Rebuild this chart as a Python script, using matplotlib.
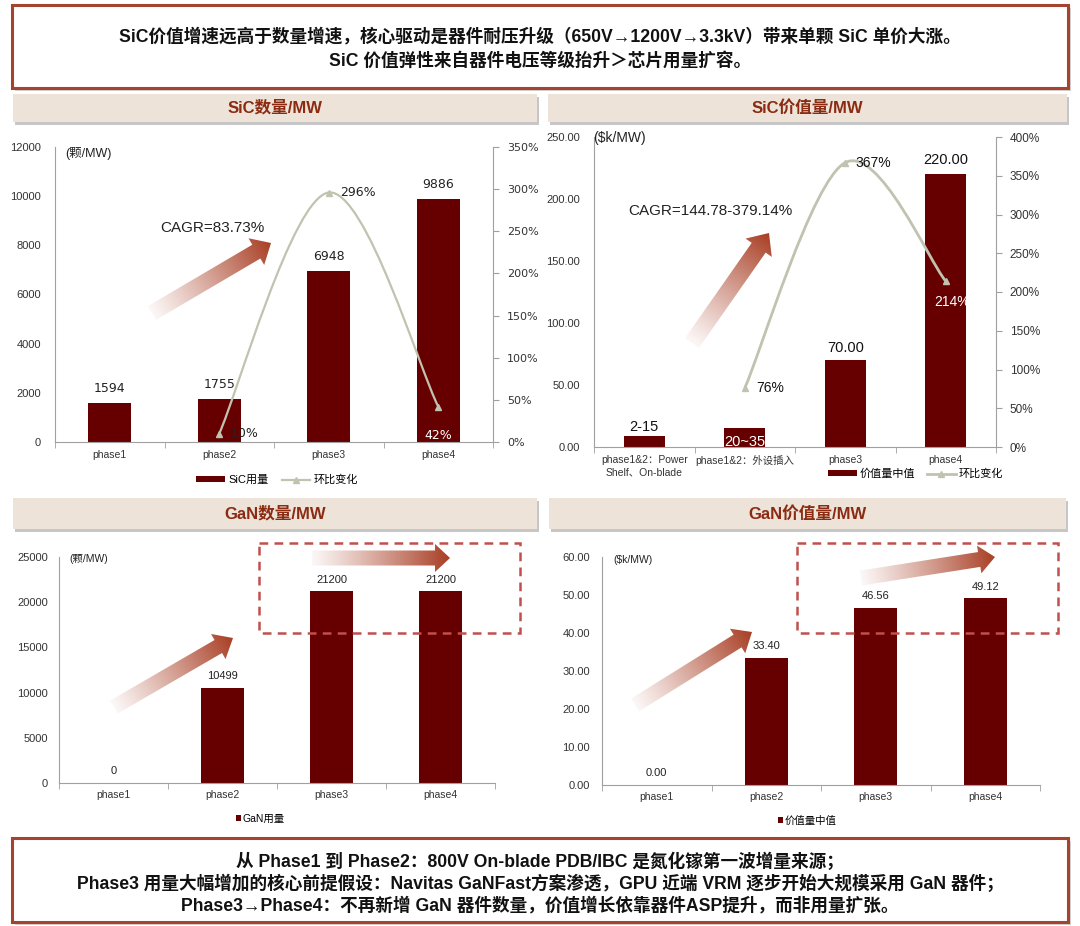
import numpy as np
import matplotlib
matplotlib.use('Agg')
import matplotlib.pyplot as plt
from matplotlib.patches import Rectangle, Polygon, PathPatch
from matplotlib.path import Path
from matplotlib.lines import Line2D
from matplotlib.ticker import FuncFormatter, MultipleLocator

plt.rcParams['font.family'] = ['Liberation Sans', 'Noto Sans CJK SC', 'DejaVu Sans']

# ---- data ----
sic_qty_phases = ['phase1', 'phase2', 'phase3', 'phase4']
sic_qty = [1594, 1755, 6948, 9886]
sic_qty_growth = [10, 296, 42]          # phase2..phase4, %

sic_val_phases = ['phase1&2：Power\nShelf、On-blade', 'phase1&2：外设插入', 'phase3', 'phase4']
sic_val = [8.5, 15, 70, 220]
sic_val_labels = ['2-15', '20~35', '70.00', '220.00']
sic_val_growth = [76, 367, 214]         # phase2..phase4, %

gan_phases = ['phase1', 'phase2', 'phase3', 'phase4']
gan_qty = [0, 10499, 21200, 21200]
gan_val = [0.00, 33.40, 46.56, 49.12]

top_lines = ['SiC价值增速远高于数量增速，核心驱动是器件耐压升级（650V→1200V→3.3kV）带来单颗 SiC 单价大涨。',
             'SiC 价值弹性来自器件电压等级抬升＞芯片用量扩容。']
bottom_lines = ['从 Phase1 到 Phase2：800V On-blade PDB/IBC 是氮化镓第一波增量来源；',
                'Phase3 用量大幅增加的核心前提假设：Navitas GaNFast方案渗透，GPU 近端 VRM 逐步开始大规模采用 GaN 器件；',
                'Phase3→Phase4：不再新增 GaN 器件数量，价值增长依靠器件ASP提升，而非用量扩张。']

BAR = '#660000'
LINE = '#C2C2B0'
AXC = '#A0A0A0'
TXT = '#333333'
RUST = (0.66, 0.24, 0.14)

W, H = 1080, 926
fig = plt.figure(figsize=(W / 100, H / 100), dpi=100)


def px_axes(x0, y0, x1, y1):
    return fig.add_axes([x0 / W, (H - y1) / H, (x1 - x0) / W, (y1 - y0) / H])


def smooth_path(xs, ys):
    # cubic bezier through the points (Excel-like smoothed line)
    pts = np.column_stack([xs, ys]).astype(float)
    n = len(pts)
    verts, codes = [pts[0]], [Path.MOVETO]
    for i in range(n - 1):
        pp = pts[max(i - 1, 0)]
        p0, p1 = pts[i], pts[i + 1]
        pn = pts[min(i + 2, n - 1)]
        verts += [p0 + (p1 - pp) / 6, p1 - (pn - p0) / 6, p1]
        codes += [Path.CURVE4] * 3
    return Path(verts, codes)


def style_axes(ax, labels, ypad):
    n = len(labels)
    ax.set_xlim(-0.5, n - 0.5)
    ax.set_xticks(range(n))
    ax.set_xticklabels(labels)
    ax.set_xticks(np.arange(-0.5, n), minor=True)
    ax.tick_params(axis='x', which='major', length=0, labelsize=7.5, colors=TXT, pad=6)
    ax.tick_params(axis='x', which='minor', length=4, color=AXC)
    ax.tick_params(axis='y', length=0, labelsize=8, colors=TXT, pad=ypad)
    for s in ['top', 'right']:
        ax.spines[s].set_visible(False)
    for s in ['left', 'bottom']:
        ax.spines[s].set_color(AXC)
    ax.set_facecolor('none')


def style_twin(ax2, top, step):
    ax2.set_ylim(0, top)
    ax2.yaxis.set_major_locator(MultipleLocator(step))
    ax2.yaxis.set_major_formatter(FuncFormatter(lambda v, p: f'{v:.0f}%'))
    ax2.tick_params(axis='y', length=4, color=AXC, labelsize=8.5, colors=TXT, pad=6)
    for s in ['top', 'left', 'bottom']:
        ax2.spines[s].set_visible(False)
    ax2.spines['right'].set_color(AXC)


# ---- SiC quantity ----
ax = px_axes(55, 147, 493, 442)
x = np.arange(len(sic_qty))
ax.bar(x, sic_qty, 0.39, color=BAR, zorder=2)
ax.set_ylim(0, 12000)
ax.yaxis.set_major_locator(MultipleLocator(2000))
style_axes(ax, sic_qty_phases, 10)
for i, v in enumerate(sic_qty):
    ax.annotate(str(v), (i, v), xytext=(0, 10.5), textcoords='offset points',
                ha='center', va='center', fontsize=9, family='DejaVu Sans', color='#222222')
ax2 = ax.twinx()
style_twin(ax2, 350, 50)
ax2.tick_params(axis='y', labelsize=8)
for lab in ax2.get_yticklabels():
    lab.set_family('DejaVu Sans')
gx = x[1:]
ax2.add_patch(PathPatch(smooth_path(gx, sic_qty_growth), fc='none', ec=LINE, lw=1.6, zorder=3))
ax2.plot(gx, sic_qty_growth, ls='none', marker='^', ms=5, color=LINE, zorder=4)
offs = [((8.5, 0), 'left', '#222222'), ((8, 0), 'left', '#222222'), ((0, -21), 'center', 'white')]
for xi, g, (o, ha, c) in zip(gx, sic_qty_growth, offs):
    ax2.annotate(f'{g}%', (xi, g), xytext=o, textcoords='offset points', ha=ha, va='center',
                 fontsize=9, family='DejaVu Sans', color=c)
ax.legend([Rectangle((0, 0), 1, 1, fc=BAR),
           Line2D([], [], color=LINE, lw=1.6, marker='^', ms=4)],
          ['SiC用量', '环比变化'], loc='center', bbox_to_anchor=(0.507, -0.129), ncol=2,
          frameon=False, fontsize=8, handlelength=2.6, handleheight=0.5,
          columnspacing=1.2, handletextpad=0.3)

# ---- SiC value ----
ax = px_axes(594, 137, 996, 447)
x = np.arange(len(sic_val))
ax.bar(x, sic_val, 0.41, color=BAR, zorder=2)
ax.set_ylim(0, 250)
ax.yaxis.set_major_locator(MultipleLocator(50))
ax.yaxis.set_major_formatter(FuncFormatter(lambda v, p: f'{v:.2f}'))
style_axes(ax, sic_val_phases, 10)
label_dy = [6.5, -9.5, 8.6, 10]
for i, (v, lab) in enumerate(zip(sic_val, sic_val_labels)):
    ax.annotate(lab, (i, v), xytext=(0, label_dy[i]), textcoords='offset points',
                ha='center', va='center', fontsize=10.5,
                color='white' if label_dy[i] < 0 else '#111111')
ax2 = ax.twinx()
style_twin(ax2, 400, 50)
gx = x[1:]
ax2.add_patch(PathPatch(smooth_path(gx, sic_val_growth), fc='none', ec=LINE, lw=2.0, zorder=3))
ax2.plot(gx, sic_val_growth, ls='none', marker='^', ms=5, color=LINE, zorder=4)
offs = [((8, 0), 'left', '#111111'), ((7, 0), 'left', '#111111'), ((-8, -15), 'left', 'white')]
for xi, g, (o, ha, c) in zip(gx, sic_val_growth, offs):
    ax2.annotate(f'{g}%', (xi, g), xytext=o, textcoords='offset points', ha=ha, va='center',
                 fontsize=10, color=c)
ax.legend([Rectangle((0, 0), 1, 1, fc=BAR),
           Line2D([], [], color=LINE, lw=2, marker='^', ms=4)],
          ['价值量中值', '环比变化'], loc='center', bbox_to_anchor=(0.80, -0.087), ncol=2,
          frameon=False, fontsize=8, handlelength=2.6, handleheight=0.5,
          columnspacing=1.0, handletextpad=0.3)

# ---- GaN quantity ----
ax = px_axes(59, 557, 495, 783)
x = np.arange(len(gan_qty))
ax.bar(x, gan_qty, 0.39, color=BAR, zorder=2)
ax.set_ylim(0, 25000)
ax.yaxis.set_major_locator(MultipleLocator(5000))
style_axes(ax, gan_phases, 8)
ax.tick_params(axis='x', which='major', pad=5)
for i, v in enumerate(gan_qty):
    ax.annotate(str(v), (i, v), xytext=(0, 8.5), textcoords='offset points',
                ha='center', va='center', fontsize=8, color='#222222')
ax.legend([Rectangle((0, 0), 1, 1, fc=BAR)], ['GaN用量'], loc='center',
          bbox_to_anchor=(0.461, -0.159), frameon=False, fontsize=7.5,
          handlelength=0.5, handleheight=0.5, handletextpad=0.15)

# ---- GaN value ----
ax = px_axes(602, 557, 1040, 785)
x = np.arange(len(gan_val))
ax.bar(x, gan_val, 0.39, color=BAR, zorder=2)
ax.set_ylim(0, 60)
ax.yaxis.set_major_locator(MultipleLocator(10))
ax.yaxis.set_major_formatter(FuncFormatter(lambda v, p: f'{v:.2f}'))
style_axes(ax, gan_phases, 8.5)
ax.tick_params(axis='x', which='major', pad=5)
for i, v in enumerate(gan_val):
    ax.annotate(f'{v:.2f}', (i, v), xytext=(0, 8.5), textcoords='offset points',
                ha='center', va='center', fontsize=8, color='#222222')
ax.legend([Rectangle((0, 0), 1, 1, fc=BAR)], ['价值量中值'], loc='center',
          bbox_to_anchor=(0.468, -0.158), frameon=False, fontsize=7.5,
          handlelength=0.5, handleheight=0.5, handletextpad=0.15)

# ---- overlay: boxes, headers, arrows, notes ----
ov = fig.add_axes([0, 0, 1, 1], zorder=10)
ov.set_xlim(0, W)
ov.set_ylim(H, 0)
ov.axis('off')
ov.patch.set_alpha(0)


def note_box(x0, y0, x1, y1):
    ov.add_patch(Rectangle((x0 + 3, y0 + 3), x1 - x0, y1 - y0, fc='#B5B5B5', ec='none', alpha=0.6))
    ov.add_patch(Rectangle((x0, y0), x1 - x0, y1 - y0, fc='white', ec='#A5432E', lw=2.2))


def header(x0, y0, x1, y1, title):
    ov.add_patch(Rectangle((x0 + 2, y0 + 3), x1 - x0, y1 - y0, fc='#A0A0A0', ec='none', alpha=0.6))
    ov.add_patch(Rectangle((x0, y0), x1 - x0, y1 - y0, fc='#EEE3D9', ec='none'))
    ov.text((x0 + x1) / 2, (y0 + y1) / 2, title, ha='center', va='center',
            fontsize=12, fontweight='bold', color='#8B2B12')


def grad_arrow(tail, tip, body, head_w, head_l):
    p0, p1 = np.array(tail, float), np.array(tip, float)
    d = p1 - p0
    L = np.hypot(*d)
    u = d / L
    nv = np.array([-u[1], u[0]])
    neck = p1 - u * head_l
    pts = np.array([p0 + nv * body / 2, neck + nv * body / 2, neck + nv * head_w / 2, p1,
                    neck - nv * head_w / 2, neck - nv * body / 2, p0 - nv * body / 2])
    poly = Polygon(pts, closed=True, fc='none', ec='none')
    ov.add_patch(poly)
    xmin, ymin = pts.min(0) - 2
    xmax, ymax = pts.max(0) + 2
    X, Y = np.meshgrid(np.linspace(xmin, xmax, 200), np.linspace(ymin, ymax, 200))
    t = np.clip(((X - p0[0]) * u[0] + (Y - p0[1]) * u[1]) / L, 0, 1)
    img = np.zeros((200, 200, 4))
    img[..., :3] = RUST
    img[..., 3] = 0.04 + 0.96 * t ** 1.1
    im = ov.imshow(img, extent=[xmin, xmax, ymax, ymin], origin='upper',
                   interpolation='bilinear', zorder=5)
    im.set_clip_path(poly)


note_box(12, 5, 1068, 88)
for yy, line in zip([37, 61], top_lines):
    ov.text(540, yy, line, ha='center', va='center', fontsize=12.7, fontweight='bold', color='#111111')
note_box(12, 838, 1068, 922)
for yy, line in zip([862, 884, 906], bottom_lines):
    ov.text(540, yy, line, ha='center', va='center', fontsize=12.7, fontweight='bold', color='#111111')

header(13, 94, 537, 122, 'SiC数量/MW')
header(548, 94, 1067, 122, 'SiC价值量/MW')
header(13, 498, 537, 529, 'GaN数量/MW')
header(549, 498, 1066, 529, 'GaN价值量/MW')

for x0, x1 in [(259, 520), (797, 1058)]:
    ov.add_patch(Rectangle((x0, 543), x1 - x0, 90, fc='none', ec='#C0504D', lw=1.8,
                           ls=(0, (3.5, 2.5))))

grad_arrow((152, 313), (271, 243), 16, 31, 17)
grad_arrow((692, 343), (769, 233), 17, 32, 18)
grad_arrow((114, 707), (233, 638), 15, 29, 17)
grad_arrow((312, 558), (450, 558), 15, 28, 15)
grad_arrow((635, 705), (752, 632), 15, 29, 17)
grad_arrow((861, 578), (995, 557), 15, 28, 16)

ov.text(160, 228, 'CAGR=83.73%', ha='left', va='center', fontsize=11, color='#222222')
ov.text(628, 211, 'CAGR=144.78-379.14%', ha='left', va='center', fontsize=11, color='#222222')
ov.text(65, 154, '(颗/MW)', ha='left', va='center', fontsize=9, color='#222222')
ov.text(593, 138, '($k/MW)', ha='left', va='center', fontsize=10, color='#222222')
ov.text(69, 559, '(颗/MW)', ha='left', va='center', fontsize=7.5, color='#222222')
ov.text(613, 560, '($k/MW)', ha='left', va='center', fontsize=7.5, color='#222222')

ov.set_aspect('auto')
ov.set_xlim(0, W)
ov.set_ylim(H, 0)

fig.savefig('out.png', dpi=100)
